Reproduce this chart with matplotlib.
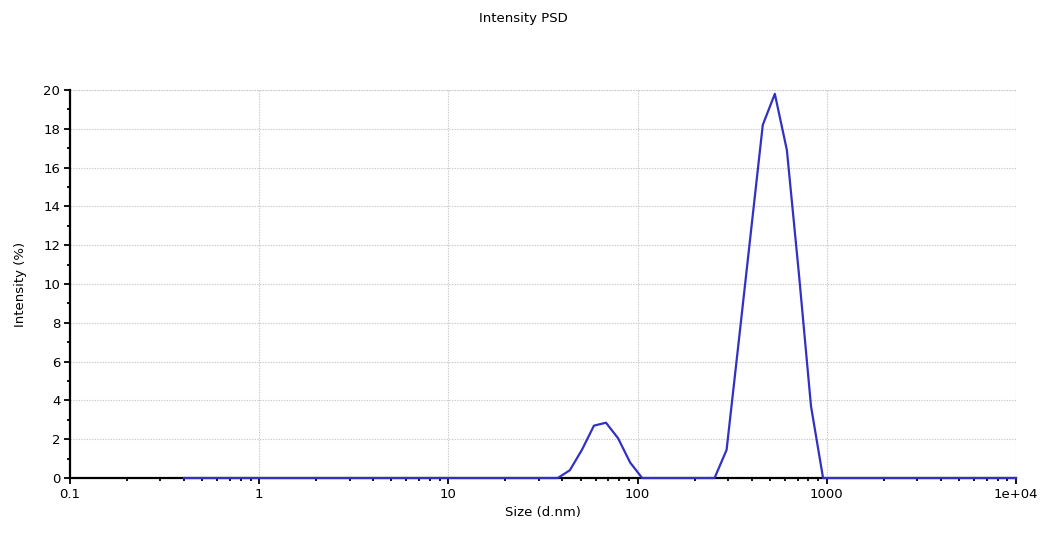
import matplotlib
matplotlib.use("Agg")
import matplotlib.pyplot as plt
from matplotlib.ticker import FixedLocator, FixedFormatter, LogLocator, NullFormatter, MultipleLocator

# Size classes (d.nm) and intensity (%)
sizes = [0.4, 0.4632, 0.5365, 0.6213, 0.7195, 0.8332, 0.9649, 1.117, 1.294, 1.499,
         1.736, 2.01, 2.328, 2.696, 3.122, 3.615, 4.187, 4.849, 5.615, 6.503,
         7.531, 8.721, 10.1, 11.7, 13.54, 15.69, 18.17, 21.04, 24.36, 28.21,
         32.67, 37.84, 43.82, 50.75, 58.77, 68.06, 78.82, 91.28, 105.7, 122.4,
         141.8, 164.2, 190.1, 220.2, 255.0, 295.3, 342.0, 396.1, 458.7, 531.2,
         615.1, 712.4, 825.0, 955.4, 1106, 1281, 1484, 1718, 1990, 2305,
         2669, 3091, 3580, 4145, 4801, 5560, 6439, 7456, 8635, 10000]
intensity = [0, 0, 0, 0, 0, 0, 0, 0, 0, 0,
             0, 0, 0, 0, 0, 0, 0, 0, 0, 0,
             0, 0, 0, 0, 0, 0, 0, 0, 0, 0,
             0, 0, 0.4, 1.45, 2.7, 2.85, 2.05, 0.8, 0, 0,
             0, 0, 0, 0, 0, 1.45, 7.0, 12.6, 18.2, 19.8,
             16.9, 10.5, 3.7, 0, 0, 0, 0, 0, 0, 0,
             0, 0, 0, 0, 0, 0, 0, 0, 0, 0]

x_ticks = [0.1, 1, 10, 100, 1000, 10000]
x_labels = ["0.1", "1", "10", "100", "1000", "1e+04"]

plt.rcParams['font.family'] = ['DejaVu Sans']
fig = plt.figure(figsize=(10.47, 5.35), dpi=100)
ax = fig.add_axes([0.0669, 0.1065, 0.9035, 0.7253])

ax.plot(sizes, intensity, color='#3330C4', lw=1.6, zorder=5, clip_on=False)

ax.set_xscale('log')
ax.set_xlim(0.1, 10000)
ax.set_ylim(0, 20)
ax.xaxis.set_major_locator(FixedLocator(x_ticks))
ax.xaxis.set_major_formatter(FixedFormatter(x_labels))
ax.xaxis.set_minor_locator(LogLocator(base=10, subs=range(2, 10)))
ax.xaxis.set_minor_formatter(NullFormatter())
ax.yaxis.set_major_locator(MultipleLocator(2))
ax.yaxis.set_minor_locator(MultipleLocator(1))

for s in ['top', 'right']:
    ax.spines[s].set_visible(False)
for s in ['left', 'bottom']:
    ax.spines[s].set_color('black')
    ax.spines[s].set_linewidth(1.6)

grid_style = dict(color='#c8c8c8', linestyle=(0, (1.2, 1.2)), linewidth=0.8)
ax.grid(True, which='major', **grid_style)
ax.tick_params(which='major', direction='out', length=4, width=1.3, labelsize=9.5, colors='black', pad=3)
ax.tick_params(which='minor', direction='out', length=2.5, width=1.3)

# top and right dotted boundaries
ax.axhline(20, zorder=1, **grid_style)
ax.axvline(10000, zorder=1, **grid_style)

ax.set_xlabel('Size (d.nm)', fontsize=9.5, labelpad=4)
ax.set_ylabel('Intensity (%)', fontsize=9.5, labelpad=12)
fig.text(0.5, 0.966, 'Intensity PSD', ha='center', va='center', fontsize=9.5)

fig.savefig('out.png', dpi=100, facecolor='white')
